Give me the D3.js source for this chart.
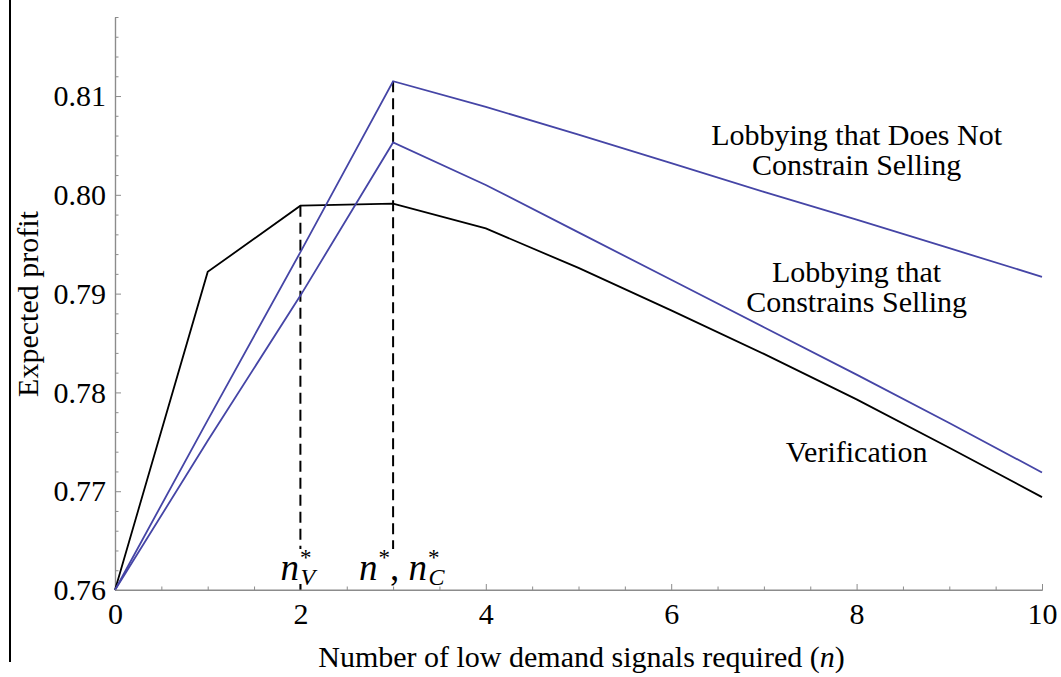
<!DOCTYPE html>
<html><head><meta charset="utf-8">
<script src="https://cdn.jsdelivr.net/npm/d3@7"></script>
<style>body{margin:0;background:#fff}svg{display:block}</style>
</head><body><svg id="c" width="1061" height="677"></svg>
<script>
// ---- data ----
const nValues = [0, 1, 2, 3, 4, 5, 6, 7, 8, 9, 10];
const verification     = [0.7600, 0.7922, 0.7989, 0.7991, 0.7966, 0.7926, 0.7883, 0.7839, 0.7793, 0.7744, 0.7694];
const lobbyConstrain   = [0.7600, 0.7751, 0.7898, 0.8053, 0.8010, 0.7962, 0.7914, 0.7866, 0.7818, 0.7769, 0.7719];
const lobbyNoConstrain = [0.7600, 0.7772, 0.7942, 0.8115, 0.8089, 0.8061, 0.8032, 0.8003, 0.7975, 0.7946, 0.7917];
const seriesNames = ["Verification", "Lobbying that Constrains Selling", "Lobbying that Does Not Constrain Selling"];
const yMajorTicks = [0.76, 0.77, 0.78, 0.79, 0.80, 0.81];
const xMajorTicks = [0, 2, 4, 6, 8, 10];
const optimaN = [2, 3]; // n*_V and n*, n*_C

// ---- layout ----
const svg = d3.select("#c");
const FONT = "Liberation Serif, Times New Roman, serif";
const x = d3.scaleLinear().domain([0, 10]).range([115, 1042]);
const y = d3.scaleLinear().domain([0.76, 0.818]).range([590, 17]);
const AX = "#8c8c8c";
const BLUE = "#4545a6";

// left page border
svg.append("line").attr("x1", 10).attr("x2", 10).attr("y1", 0).attr("y2", 662)
  .attr("stroke", "#000").attr("stroke-width", 2);

// minor ticks
const yMinor = d3.range(0, 30).map(i => +(0.76 + i * 0.002).toFixed(3)).filter(v => !yMajorTicks.some(m => Math.abs(m - v) < 1e-9));
const xMinor = d3.range(0, 21).map(i => i * 0.5).filter(v => !xMajorTicks.includes(v));

function styleAxis(g) {
  g.attr("font-family", FONT).attr("font-size", 30);
  g.selectAll("path.domain").attr("stroke", AX).attr("stroke-width", 1.2);
  g.selectAll(".tick line").attr("stroke", AX).attr("stroke-width", 1);
  g.selectAll("text").attr("fill", "#000");
}

// y axis
svg.append("g").attr("transform", `translate(${x(0)},0)`)
  .call(d3.axisLeft(y).tickValues(yMinor).tickSize(-3.5).tickSizeOuter(0).tickFormat(""))
  .call(styleAxis);
svg.append("g").attr("transform", `translate(${x(0)},0)`)
  .call(d3.axisLeft(y).tickValues(yMajorTicks).tickSize(-6).tickSizeOuter(0).tickPadding(9).tickFormat(d3.format(".2f")))
  .call(styleAxis);

// x axis
svg.append("g").attr("transform", `translate(0,${y(0.76)})`)
  .call(d3.axisBottom(x).tickValues(xMinor).tickSize(-3.5).tickSizeOuter(0).tickFormat(""))
  .call(styleAxis);
svg.append("g").attr("transform", `translate(0,${y(0.76)})`)
  .call(d3.axisBottom(x).tickValues(xMajorTicks).tickSize(-6).tickSizeOuter(0).tickPadding(13).tickFormat(d3.format("d")))
  .call(styleAxis);

// axis titles
const xt = svg.append("text").attr("x", (x(0) + x(10)) / 2 + 3).attr("y", 667)
  .attr("text-anchor", "middle").attr("font-family", FONT).attr("font-size", 30);
xt.append("tspan").text("Number of low demand signals required (");
xt.append("tspan").attr("font-style", "italic").text("n");
xt.append("tspan").text(")");

svg.append("text").attr("transform", "translate(38,304) rotate(-90)")
  .attr("text-anchor", "middle").attr("font-family", FONT).attr("font-size", 30)
  .text("Expected profit");

// dashed optimum markers
const allSeries = [verification, lobbyConstrain, lobbyNoConstrain];
optimaN.forEach(n => {
  const i = nValues.indexOf(n);
  const top = n === 2 ? verification[i] : d3.max(allSeries, s => s[i]);
  svg.append("line").attr("x1", x(n)).attr("x2", x(n)).attr("y1", y(top)).attr("y2", y(0.76))
    .attr("stroke", "#000").attr("stroke-width", 2).attr("stroke-dasharray", "11,6");
});

// lines
const line = d3.line().x((d, i) => x(nValues[i])).y(d => y(d));
const colors = ["#000", BLUE, BLUE];
allSeries.forEach((s, k) => {
  svg.append("path").datum(s).attr("d", line).attr("fill", "none")
    .attr("stroke", colors[k]).attr("stroke-width", 1.8).attr("stroke-linejoin", "miter");
});

// optimum labels (with white background masking dashes)
function mathLabel(xPos, parts) {
  const g = svg.append("g");
  const r = g.append("rect").attr("fill", "#fff");
  const t = g.append("text").attr("x", xPos).attr("y", 580)
    .attr("font-family", FONT).attr("font-size", 37);
  parts(t);
  const b = t.node().getBBox();
  r.attr("x", b.x - 2).attr("y", b.y + 4).attr("width", b.width + 4).attr("height", b.height - 10);
}
mathLabel(x(optimaN[0]) - 20, t => {
  t.append("tspan").attr("font-style", "italic").text("n");
  t.append("tspan").attr("dx", 1).attr("dy", -15).attr("font-size", 23).text("*");
  t.append("tspan").attr("dx", -11).attr("dy", 20).attr("font-size", 24).attr("font-style", "italic").text("V");
});
mathLabel(x(optimaN[1]) - 34, t => {
  t.append("tspan").attr("font-style", "italic").text("n");
  t.append("tspan").attr("dx", 1).attr("dy", -15).attr("font-size", 23).text("*");
  t.append("tspan").attr("dy", 15).text(", ");
  t.append("tspan").attr("font-style", "italic").text("n");
  t.append("tspan").attr("dx", 1).attr("dy", -15).attr("font-size", 23).text("*");
  t.append("tspan").attr("dx", -11).attr("dy", 20).attr("font-size", 24).attr("font-style", "italic").text("C");
});
// redraw axis line on top of masks
svg.append("line").attr("x1", x(0)).attr("x2", x(10)).attr("y1", y(0.76)).attr("y2", y(0.76))
  .attr("stroke", AX).attr("stroke-width", 1.2);

// series annotations
function annot(lines, cx, baseline) {
  const t = svg.append("text").attr("font-family", FONT).attr("font-size", 30).attr("text-anchor", "middle");
  lines.forEach((l, i) => t.append("tspan").attr("x", cx).attr("y", baseline + i * 30).text(l));
}
annot(["Lobbying that Does Not", "Constrain Selling"], x(8), 145);
annot(["Lobbying that", "Constrains Selling"], x(8), 282);
annot([seriesNames[0]], x(8), 462);
</script>
</body></html>
